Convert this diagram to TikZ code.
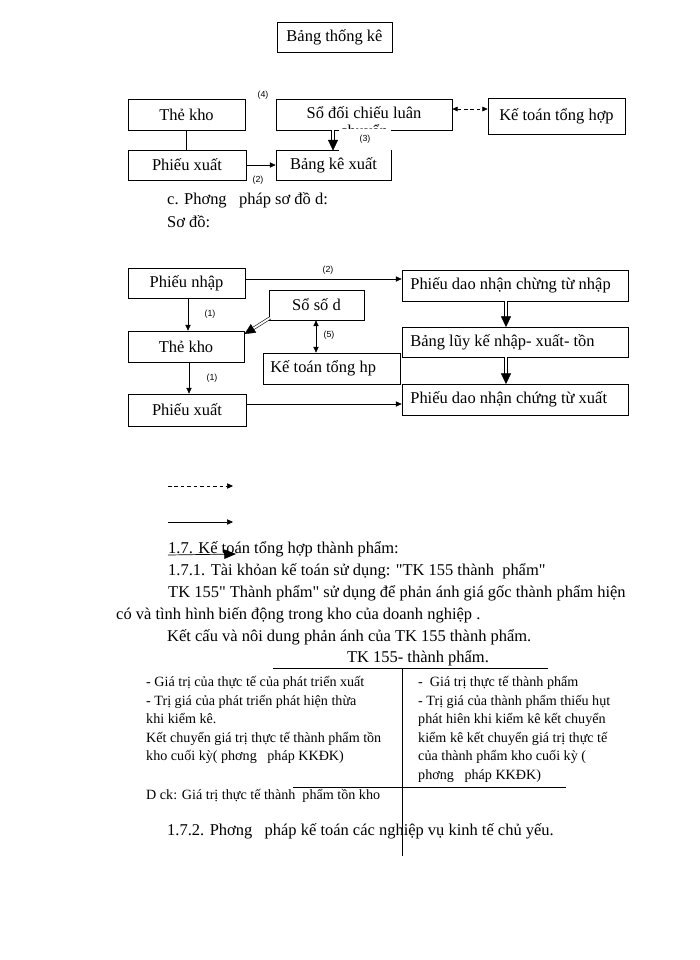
\documentclass[tikz,border=0pt]{standalone}
\usepackage{fontspec}
\setmainfont{Liberation Serif}[Ligatures=TeXOff]
\newfontfamily\lblfont{Liberation Sans}
\usetikzlibrary{arrows.meta}
\tikzset{
  box/.style={draw, line width=0.6pt, inner sep=0pt, font=\fontsize{14}{16}\selectfont},
  lbl/.style={font=\lblfont\fontsize{7.5}{8}\selectfont, inner sep=0pt},
  body/.style={font=\fontsize{14}{16}\selectfont, inner sep=0pt, anchor=base west},
  tbl/.style={font=\fontsize{12}{13}\selectfont, inner sep=0pt, anchor=base west},
  arr/.style={line width=0.5pt, -{Triangle[length=5pt,width=4.5pt]}},
  darr/.style={line width=0.5pt, dashed, dash pattern=on 3pt off 2.5pt, {Triangle[length=4.5pt,width=4pt]}-{Triangle[length=4.5pt,width=4pt]}},
  barr/.style={line width=0.5pt, {Triangle[length=5pt,width=4.5pt]}-{Triangle[length=5pt,width=4.5pt]}},
  dshaft/.style={line width=0.5pt, double, double distance=1.6pt, shorten >=6pt},
  dtip/.style={white, line width=0.3pt, -{Triangle[length=9pt,width=8.5pt,color=black]}},
  rule/.style={line width=0.6pt}
}
\newcommand\bx[6]{\node[box, minimum width={(#4-#2)*0.85pt}, minimum height={(#5-#3)*0.85pt}] (#1) at ({(#2+#4)/2},{(#3+#5)/2}) {#6};}
\newcommand\dblarrow[2]{\draw[dshaft] (#1) -- (#2); \draw[dtip] (#1) -- (#2);}
\begin{document}
\begin{tikzpicture}[x=0.85pt,y=-0.85pt]
\useasboundingbox[fill=white] (0,0) rectangle (700,960);
% ---------- top diagram ----------
\bx{bt}{277}{22}{392}{52}{Bảng thống kê}
\bx{tkA}{128}{99}{245}{130}{Thẻ kho}
\bx{sdc}{276}{99}{452}{130}{}
\node[font=\fontsize{14}{16}\selectfont, inner sep=0pt, anchor=base] (sdct) at (364,118) {Sổ đối chiếu luân};
\begin{scope}
\clip (276,99) rectangle (452,129.5);
\node[font=\fontsize{14}{16}\selectfont, inner sep=0pt, anchor=base] (sdct2) at (364,136) {chuyển};
\end{scope}
\bx{kth}{488}{98}{625}{134}{Kế toán tổng hợp}
\bx{pxA}{128}{150}{246}{180}{Phiếu xuất}
\bx{bkx}{276}{150}{391}{180}{Bảng kê xuất}
\draw[line width=1.2pt] (bkx.north east) -- (bkx.south east);
\node[lbl, fill=white, minimum width={52*0.85pt}, minimum height={22*0.85pt}] (l3) at (365,139.5) {(3)};
\node[lbl] (l4) at (263,95) {(4)};
\node[lbl] (l2a) at (258,180) {(2)};
\draw[line width=0.6pt] (tkA.south) -- (tkA.south |- pxA.north);
\draw[arr] (pxA.east) -- (bkx.west);
\draw[darr] (sdc.east |- 0,109) -- (kth.west |- 0,109);
\coordinate (d3s) at (333,130);
\coordinate (d3e) at (333,150.5);
\dblarrow{d3s}{d3e}
% ---------- section text ----------
\node[body] (c1) at (167,204) {c. Phơng \ \ pháp sơ đồ d:};
\node[body] (c2) at (167,227) {Sơ đồ:};
% ---------- second diagram ----------
\bx{pn}{128}{268}{245}{298}{Phiếu nhập}
\bx{pdn}{402}{270}{628}{301}{}
\node[box, draw=none, anchor=west] (pdnt) at (410,285.5) {Phiếu dao nhận chừng từ nhập};
\bx{ssd}{269}{290}{364}{320}{Sổ số d}
\bx{tkB}{128}{331}{244}{362}{Thẻ kho}
\bx{bl}{402}{327}{628}{357}{}
\node[box, draw=none, anchor=west] (blt) at (410,342) {Bảng lũy kế nhập- xuất- tồn};
\bx{ktth}{263}{353}{400}{384}{}
\node[box, draw=none, anchor=west] (ktt) at (270,368.5) {Kế toán tổng hp};
\bx{pdx}{402}{384}{628}{415}{}
\node[box, draw=none, anchor=west] (pdxt) at (410,399.5) {Phiếu dao nhận chứng từ xuất};
\bx{pxB}{128}{394}{246}{426}{Phiếu xuất}
\draw[arr] (pn.east |- 0,279) -- (pdn.west |- 0,279);
\node[lbl] (l2b) at (328,270) {(2)};
\draw[arr] (pn.south -| 188,0) -- (tkB.north -| 188,0);
\node[lbl] (l1a) at (210,314) {(1)};
\draw[arr] (tkB.south -| 189,0) -- (pxB.north -| 189,0);
\node[lbl] (l1b) at (212,378) {(1)};
\draw[arr] (pxB.east |- 0,404) -- (pdx.west |- 0,404);
\coordinate (s1) at (270,318);
\coordinate (s2) at (244.5,334);
\dblarrow{s1}{s2}
\draw[barr] (ssd.south -| 316,0) -- (ktth.north -| 316,0);
\node[lbl] (l5) at (329,335) {(5)};
\coordinate (v1) at (506,301);
\coordinate (v2) at (506,327);
\dblarrow{v1}{v2}
\coordinate (v3) at (506,357);
\coordinate (v4) at (506,384);
\dblarrow{v3}{v4}
% ---------- legend ----------
\coordinate (g1a) at (168,486); \coordinate (g1b) at (233,486);
\draw[line width=0.5pt, dash pattern=on 3pt off 2.5pt, -{Triangle[length=5pt,width=4.5pt]}] (g1a) -- (g1b);
\coordinate (g2a) at (168,522); \coordinate (g2b) at (233,522);
\draw[arr] (g2a) -- (g2b);
% ---------- text block ----------
\node[body] (t1) at (168,553) {1.7. Kế toán tổng hợp thành phẩm:};
\coordinate (g3a) at (168,555); \coordinate (g3b) at (236,554);
\draw[line width=0.6pt, -{Triangle[length=10pt,width=8pt]}] (g3a) -- (g3b);
\node[body] (t2) at (168,575) {1.7.1. Tài khỏan kế toán sử dụng: "TK 155 thành \ phẩm"};
\node[body] (t3) at (168,597) {TK 155" Thành phẩm" sử dụng để phản ánh giá gốc thành phẩm hiện};
\node[body] (t4) at (116,619) {có và tình hình biến động trong kho của doanh nghiệp .};
\node[body] (t5) at (167,641) {Kết cấu và nôi dung phản ánh của TK 155 thành phẩm.};
\node[body, anchor=base] (t6) at (418,662) {TK 155- thành phẩm.};
\draw[rule] (273,668) -- (548,668);
\draw[rule] (402,668) -- (402,856);
\draw[rule] (293,787) -- (566,787);
\node[tbl] (a1) at (146,686) {- Giá trị của thực tế của phát triển xuất};
\node[tbl] (a2) at (146,705) {- Trị giá của phát triển phát hiện thừa};
\node[tbl] (a3) at (146,723) {khi kiểm kê.};
\node[tbl] (a4) at (146,742) {Kết chuyển giá trị thực tế thành phẩm tồn};
\node[tbl] (a5) at (146,760) {kho cuối kỳ( phơng \ \ pháp KKĐK)};
\node[tbl] (b1) at (418,686) {- \ Giá trị thực tế thành phẩm};
\node[tbl] (b2) at (418,705) {- Trị giá của thành phẩm thiếu hụt};
\node[tbl] (b3) at (418,723) {phát hiên khi kiểm kê kết chuyển};
\node[tbl] (b4) at (418,742) {kiểm kê kết chuyển giá trị thực tế};
\node[tbl] (b5) at (418,760) {của thành phẩm kho cuối kỳ (};
\node[tbl] (b6) at (418,779) {phơng \ \ pháp KKĐK)};
\node[tbl] (dck) at (146,799) {D ck: Giá trị thực tế thành \ phẩm tồn kho};
\node[body] (t7) at (167,835) {1.7.2. Phơng \ \ pháp kế toán các nghiệp vụ kinh tế chủ yếu.};
\end{tikzpicture}
\end{document}
